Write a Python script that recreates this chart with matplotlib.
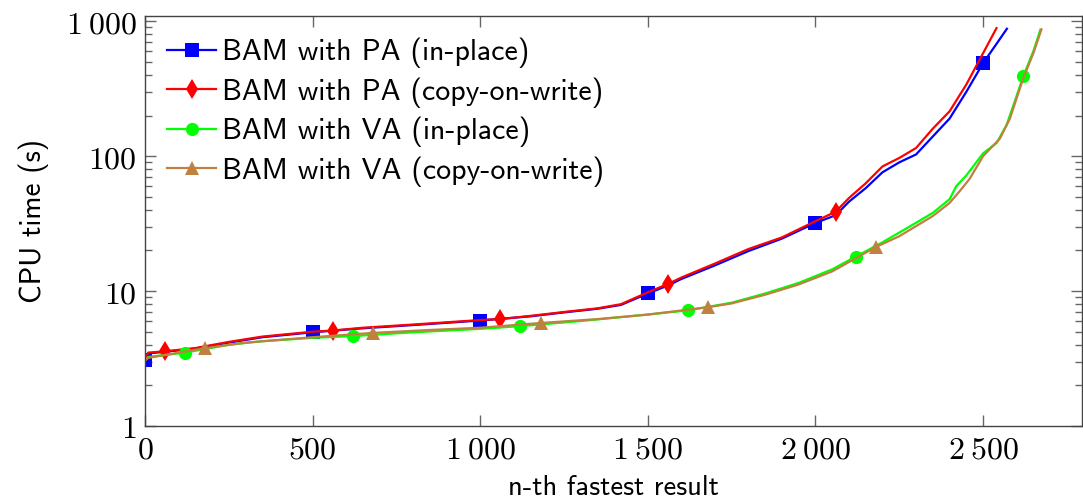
import matplotlib
matplotlib.use("Agg")
import matplotlib.pyplot as plt
from matplotlib.ticker import LogLocator, FixedLocator, NullFormatter

plt.rcParams['mathtext.fontset'] = 'cm'

# ---- data ----
pa_inplace_x = [0, 10, 60, 150, 250, 350, 500, 650, 800, 1000, 1150, 1250, 1350, 1420, 1500, 1560, 1600,
                1700, 1800, 1900, 2000, 2060, 2100, 2150, 2200, 2250, 2300, 2350, 2400, 2450, 2500, 2540, 2571]
pa_inplace_y = [3.1, 3.45, 3.55, 3.75, 4.15, 4.55, 4.95, 5.3, 5.6, 6.05, 6.5, 6.95, 7.4, 7.9, 9.6, 11.0, 12.3,
                15.5, 19.8, 24.5, 32, 36.5, 46, 58, 76, 90, 103, 140, 190, 300, 490, 680, 880]

pa_cow_x = [0, 10, 60, 150, 250, 350, 500, 560, 650, 800, 1000, 1060, 1150, 1250, 1350, 1420, 1500, 1560, 1600,
            1700, 1800, 1900, 2000, 2060, 2100, 2150, 2200, 2250, 2300, 2350, 2400, 2450, 2500, 2540]
pa_cow_y = [3.15, 3.5, 3.58, 3.78, 4.2, 4.6, 5.0, 5.1, 5.35, 5.65, 6.1, 6.2, 6.55, 7.0, 7.45, 8.0, 9.8, 11.3, 12.6,
            16.0, 20.5, 25.0, 33, 38.7, 49, 63, 84, 97, 115, 160, 215, 340, 580, 890]

va_inplace_x = [0, 10, 120, 250, 350, 500, 620, 800, 1000, 1120, 1300, 1500, 1620, 1750, 1850, 1950, 2050, 2120,
                2200, 2280, 2350, 2400, 2420, 2450, 2500, 2540, 2570, 2600, 2620, 2650, 2671]
va_inplace_y = [3.1, 3.25, 3.5, 4.0, 4.25, 4.5, 4.64, 4.95, 5.25, 5.5, 6.0, 6.7, 7.2, 8.2, 9.6, 11.5, 14.5, 18,
                23, 30, 38, 48, 60, 72, 105, 125, 170, 280, 392, 600, 868]

va_cow_x = [0, 10, 180, 300, 500, 680, 850, 1000, 1180, 1350, 1500, 1680, 1750, 1850, 1950, 2050, 2180, 2250,
            2350, 2400, 2430, 2460, 2500, 2550, 2580, 2620, 2650, 2674]
va_cow_y = [3.05, 3.2, 3.78, 4.15, 4.55, 4.9, 5.15, 5.35, 5.8, 6.2, 6.7, 7.6, 8.1, 9.4, 11.2, 14.0, 21.2, 25.5,
            36, 45, 55, 68, 100, 135, 190, 380, 580, 870]

labels = ["BAM with PA (in-place)", "BAM with PA (copy-on-write)",
          "BAM with VA (in-place)", "BAM with VA (copy-on-write)"]
marker_offsets = [0, 60, 120, 180]

x_ticks = [0, 500, 1000, 1500, 2000, 2500]
x_ticklabels = [r'$0$', r'$500$', r'$1\:000$', r'$1\:500$', r'$2\:000$', r'$2\:500$']
y_ticks = [1, 10, 100, 1000]
y_ticklabels = [r'$1$', r'$10$', r'$100$', r'$1\:000$']

series = [(pa_inplace_x, pa_inplace_y), (pa_cow_x, pa_cow_y),
          (va_inplace_x, va_inplace_y), (va_cow_x, va_cow_y)]
colors = ['#0000ff', '#ff0000', '#00ff00', '#bf8040']
markers = ['s', 'd', 'o', '^']
msizes = [9.5, 10, 9.5, 9.5]

fig = plt.figure(figsize=(10.83, 5.03), dpi=100)
ax = fig.add_axes([145/1083, 1-426/503, (1082-145)/1083, (426-16)/503])

for (xs, ys), c, m, ms, lab, off in zip(series, colors, markers, msizes, labels, marker_offsets):
    idx = [i for i, x in enumerate(xs) if x >= off and (x - off) % 500 == 0]
    ax.plot(xs, ys, color=c, lw=1.6, marker=m, markersize=ms, markevery=idx,
            markeredgewidth=0, label=lab)

ax.set_yscale('log')
ax.set_xlim(0, 2795)
ax.set_ylim(1, 1094)

ax.xaxis.set_major_locator(FixedLocator(x_ticks))
ax.set_xticklabels(x_ticklabels)
ax.yaxis.set_major_locator(FixedLocator(y_ticks))
ax.set_yticklabels(y_ticklabels)
ax.yaxis.set_minor_locator(LogLocator(base=10, subs=range(2, 10)))
ax.yaxis.set_minor_formatter(NullFormatter())

ax.tick_params(which='both', direction='in', top=True, right=True, color='#666666', width=1.0)
ax.tick_params(which='major', length=8, labelsize=23, pad=6)
ax.tick_params(which='minor', length=5)
for s in ax.spines.values():
    s.set_color('#444444')
    s.set_linewidth(1.0)

ax.set_xlabel('n-th fastest result', family='cmss10', fontsize=20.5, labelpad=7)
ax.set_ylabel('CPU time (s)', family='cmss10', fontsize=21, labelpad=12)

leg = ax.legend(loc='upper left', bbox_to_anchor=(-0.005, 1.012), frameon=False,
                prop={'family': 'cmss10', 'size': 21.5}, handlelength=1.65, handletextpad=0.2,
                labelspacing=0.3, borderaxespad=0.5)

fig.savefig('out.png', dpi=100)
